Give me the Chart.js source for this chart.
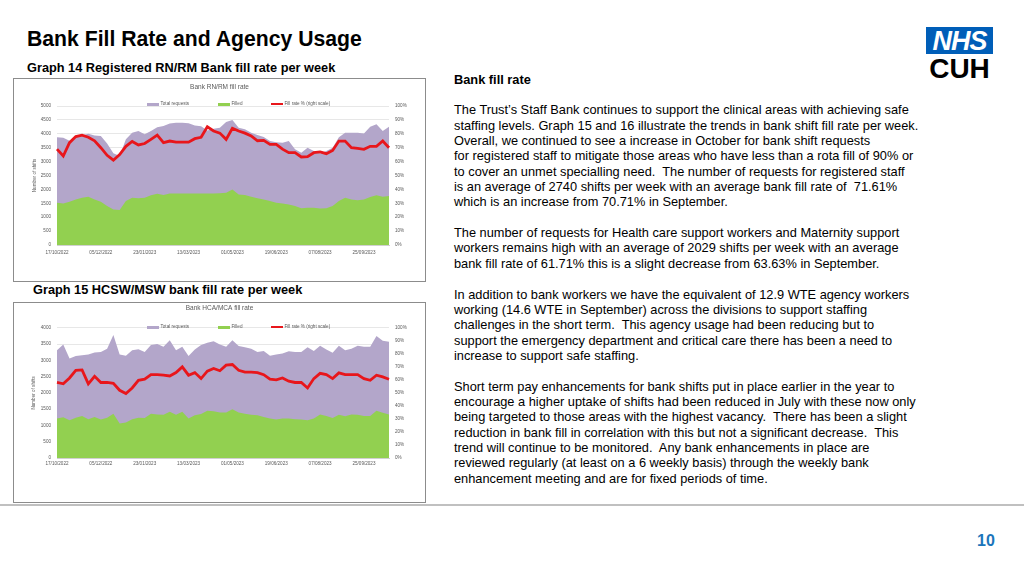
<!DOCTYPE html>
<html>
<head>
<meta charset="utf-8">
<script src="https://cdn.jsdelivr.net/npm/chart.js@4"></script>
<style>
  body { margin: 0; background: #fff; font-family: 'Liberation Sans', Arial, sans-serif; }
  .slide { position: relative; width: 1024px; height: 576px; overflow: hidden; background: #fff; }
  .title { position: absolute; left: 27px; top: 27px; font-size: 21.2px; font-weight: bold; color: #000; white-space: nowrap; }
  .sub { position: absolute; font-size: 12.75px; font-weight: bold; color: #000; white-space: nowrap; }
  .box { position: absolute; border: 1px solid #8c8c8c; box-sizing: border-box; }
  .box .wrap { position: absolute; left: 0; top: 0; right: 0; bottom: 0; }
  .legend { position: absolute; left: 0; top: 0; width: 100%; height: 8px; font-size: 4.6px; color: #595959; }
  .legend span { position: absolute; white-space: nowrap; }
  .legend i { position: absolute; width: 12px; }
  .text { position: absolute; left: 454px; top: 71.7px; font-size: 12.8px; line-height: 15.35px; color: #000; white-space: nowrap; }
  .rule { position: absolute; left: 0; top: 504px; width: 1024px; height: 2px; background: #c0c0c0; }
  .page { position: absolute; left: 977px; top: 532px; font-size: 16px; font-weight: bold; color: #1b75bb; }
  .nhs { position: absolute; left: 926px; top: 27px; width: 67px; height: 27px; background: #005eb8; color: #fff;
         font: italic bold 27px 'Liberation Sans', Arial, sans-serif; line-height: 28px; text-align: center; letter-spacing: -1px; }
  .cuh { position: absolute; left: 926px; top: 53px; width: 67px; text-align: center; font: bold 28px 'Liberation Sans', Arial, sans-serif; color: #000; }
</style>
</head>
<body>
<div class="slide">
  <div class="title">Bank Fill Rate and Agency Usage</div>
  <div class="sub" style="left:27px;top:60px;">Graph 14 Registered RN/RM Bank fill rate per week</div>
  <div class="sub" style="left:33px;top:282px;">Graph 15 HCSW/MSW bank fill rate per week</div>

  <div class="box" style="left:13px;top:78px;width:413px;height:204px;">
    <div class="wrap"><canvas id="rnChart"></canvas></div>
    <div class="legend" id="rnLegend" style="top:21px;"></div>
  </div>

  <div class="box" style="left:13px;top:302px;width:413px;height:201px;">
    <div class="wrap"><canvas id="hcaChart"></canvas></div>
    <div class="legend" id="hcaLegend" style="top:20px;"></div>
  </div>

  <div class="text"><b>Bank fill rate</b><br>
<br>
The Trust’s Staff Bank continues to support the clinical areas with achieving safe<br>
staffing levels. Graph 15 and 16 illustrate the trends in bank shift fill rate per week.<br>
Overall, we continued to see a increase in October for bank shift requests<br>
for registered staff to mitigate those areas who have less than a rota fill of 90% or<br>
to cover an unmet specialling need.&nbsp; The number of requests for registered staff<br>
is an average of 2740 shifts per week with an average bank fill rate of &nbsp;71.61%<br>
which is an increase from 70.71% in September.<br>
<br>
The number of requests for Health care support workers and Maternity support<br>
workers remains high with an average of 2029 shifts per week with an average<br>
bank fill rate of 61.71% this is a slight decrease from 63.63% in September.<br>
<br>
In addition to bank workers we have the equivalent of 12.9 WTE agency workers<br>
working (14.6 WTE in September) across the divisions to support staffing<br>
challenges in the short term.&nbsp; This agency usage had been reducing but to<br>
support the emergency department and critical care there has been a need to<br>
increase to support safe staffing.<br>
<br>
Short term pay enhancements for bank shifts put in place earlier in the year to<br>
encourage a higher uptake of shifts had been reduced in July with these now only<br>
being targeted to those areas with the highest vacancy.&nbsp; There has been a slight<br>
reduction in bank fill in correlation with this but not a significant decrease.&nbsp; This<br>
trend will continue to be monitored.&nbsp; Any bank enhancements in place are<br>
reviewed regularly (at least on a 6 weekly basis) through the weekly bank<br>
enhancement meeting and are for fixed periods of time.</div>

  <div class="nhs">NHS</div>
  <div class="cuh">CUH</div>
  <div class="rule"></div>
  <div class="page">10</div>
</div>

<script>
/* ===== Data ===== */
const weeks = [
  '17/10/2022', '24/10/2022', '31/10/2022', '07/11/2022', '14/11/2022', '21/11/2022', '28/11/2022',
  '05/12/2022', '12/12/2022', '19/12/2022', '26/12/2022', '02/01/2023', '09/01/2023', '16/01/2023',
  '23/01/2023', '30/01/2023', '06/02/2023', '13/02/2023', '20/02/2023', '27/02/2023', '06/03/2023',
  '13/03/2023', '20/03/2023', '27/03/2023', '03/04/2023', '10/04/2023', '17/04/2023', '24/04/2023',
  '01/05/2023', '08/05/2023', '15/05/2023', '22/05/2023', '29/05/2023', '05/06/2023', '12/06/2023',
  '19/06/2023', '26/06/2023', '03/07/2023', '10/07/2023', '17/07/2023', '24/07/2023', '31/07/2023',
  '07/08/2023', '14/08/2023', '21/08/2023', '28/08/2023', '04/09/2023', '11/09/2023', '18/09/2023',
  '25/09/2023', '02/10/2023', '09/10/2023', '16/10/2023', '23/10/2023'
];

const seriesLabels = ['Total requests', 'Filled', 'Fill rate % (right scale)'];
const seriesColors = ['#b3a6ca', '#92d050', '#e8161b'];

// Graph 14 - RN/RM
const rnTotal = [
  3880, 3860, 3750, 3880, 3950, 4000, 3940, 3920, 3650, 3300, 3200, 3800, 4040, 4100,
  3980, 4100, 4240, 4280, 4370, 4400, 4400, 4380, 4300, 4270, 4120, 4180, 4220, 4420,
  4500, 4220, 4160, 4040, 3960, 3885, 3740, 3700, 3680, 3740, 3440, 3320, 3500, 3380,
  3290, 3380, 3500, 3880, 4040, 4040, 4040, 4010, 4250, 4340, 4100, 4250
];
const rnFilled = [
  1520, 1490, 1560, 1640, 1700, 1740, 1640, 1560, 1400, 1280, 1260, 1580, 1700, 1680,
  1700, 1790, 1840, 1800, 1850, 1850, 1850, 1850, 1850, 1850, 1850, 1850, 1860, 1880,
  2000, 1820, 1800, 1740, 1680, 1640, 1580, 1520, 1490, 1460, 1400, 1320, 1340, 1340,
  1310, 1320, 1400, 1580, 1700, 1640, 1610, 1640, 1730, 1790, 1740, 1760
];
const rnRate = [
  69, 64, 73.6, 78, 79, 77.5, 75, 70, 64.5, 61, 65, 71, 74.5, 72,
  73, 76, 79, 73.6, 74.8, 74, 74, 74, 76.5, 77.5, 85, 82, 80.5, 76,
  84, 82, 80.5, 78.5, 75, 75.3, 72.4, 72.4, 69, 66.4, 66.4, 63.3, 63.5, 66.4,
  67, 65.7, 68, 74.8, 74.8, 70, 69.5, 68.8, 71, 71, 74.8, 70
];

// Graph 15 - HCA/MCA
const hcaTotal = [
  3310, 3490, 3060, 3130, 3160, 3180, 3240, 3260, 3360, 3780, 3180, 3140, 3310, 3340,
  3260, 3470, 3500, 3420, 3620, 3310, 3420, 3130, 3330, 3470, 3540, 3590, 3490, 3420,
  3620, 3440, 3400, 3360, 3260, 3290, 3140, 3180, 3210, 3280, 3260, 3260, 3400, 3290,
  3450, 3330, 3230, 3450, 3310, 3360, 3450, 3420, 3420, 3750, 3600, 3570
];
const hcaFilled = [
  1210, 1250, 1160, 1240, 1290, 1190, 1260, 1180, 1240, 1360, 1060, 1090, 1190, 1240,
  1230, 1360, 1340, 1330, 1420, 1330, 1420, 1210, 1310, 1350, 1450, 1440, 1400, 1400,
  1500, 1400, 1360, 1330, 1310, 1260, 1210, 1180, 1210, 1210, 1190, 1180, 1160, 1210,
  1340, 1290, 1230, 1330, 1280, 1340, 1330, 1290, 1290, 1450, 1390, 1340
];
const hcaRate = [
  58, 57, 61.5, 67.4, 67.7, 57, 62.8, 58, 58, 57.4, 52, 49.5, 53.8, 59.7,
  60.5, 64, 64, 63.6, 63, 65.6, 70, 63.6, 65.6, 61, 66.7, 68.7, 67, 71.3,
  71.8, 67.4, 66, 66, 65.6, 64, 60.5, 60, 61.5, 59, 58, 58, 53.8, 61,
  65, 64, 61, 65.4, 64, 64, 64, 61, 59.7, 63.6, 62.3, 60.5
];

/* ===== Chart defaults ===== */
Chart.defaults.font.family = "'Liberation Sans', Arial, sans-serif";
Chart.defaults.color = '#595959';
Chart.defaults.animation = false;

const tickFont = { size: 4.6 };

function buildLegend(el) {
  const lefts = [133, 204, 257];
  el.innerHTML = seriesLabels.map((label, i) => {
    const h = i === 2 ? 2.8 : 3;
    return `<i style="left:${lefts[i]}px;top:${4 - h / 2}px;height:${h}px;background:${seriesColors[i]}"></i>` +
      `<span style="left:${lefts[i] + 13.5}px;top:1px;">${label}</span>`;
  }).join('');
}

function initFillChart(id, title, total, filled, rate, opts) {
  const ctx = document.getElementById(id);
  new Chart(ctx, {
    type: 'line',
    data: {
      labels: weeks,
      datasets: [
        {
          label: seriesLabels[0], data: total, order: 2,
          backgroundColor: seriesColors[0], borderWidth: 0,
          fill: 'origin', pointRadius: 0, tension: 0, yAxisID: 'y'
        },
        {
          label: seriesLabels[1], data: filled, order: 1,
          backgroundColor: seriesColors[1], borderWidth: 0,
          fill: 'origin', pointRadius: 0, tension: 0, yAxisID: 'y'
        },
        {
          label: seriesLabels[2], data: rate, order: 0,
          borderColor: seriesColors[2], backgroundColor: seriesColors[2], borderWidth: 2.8,
          fill: false, pointRadius: 0, tension: 0, yAxisID: 'y1'
        }
      ]
    },
    options: {
      responsive: true,
      maintainAspectRatio: false,
      layout: { padding: 0 },
      plugins: {
        legend: { display: false },
        tooltip: { enabled: false },
        title: {
          display: true,
          text: title,
          color: '#595959',
          font: { size: 6.5, weight: 'normal' },
          padding: opts.titlePad
        }
      },
      scales: {
        x: {
          offset: false,
          grid: { display: false, drawTicks: false },
          border: { display: true, color: '#d0d0d0' },
          ticks: {
            autoSkip: false, maxRotation: 0, font: tickFont, padding: opts.xPad,
            callback: (v, i) => (i % 7 === 0 ? weeks[i] : '')
          },
          afterFit: s => { s.height = opts.xHeight; }
        },
        y: {
          min: 0, max: opts.yMax,
          ticks: { stepSize: 500, font: tickFont, padding: 6, callback: v => String(v) },
          grid: { color: '#dcdcdc', lineWidth: 0.7, drawTicks: false },
          border: { display: false },
          title: {
            display: true, text: 'Number of shifts', font: { size: 4.6 },
            padding: { top: opts.yTitleTop, bottom: 0 }
          },
          afterFit: s => { s.width = 43; }
        },
        y1: {
          position: 'right',
          min: 0, max: 100,
          ticks: { stepSize: 10, font: tickFont, padding: 6, callback: v => v + '%' },
          grid: { display: false, drawTicks: false },
          border: { display: false },
          afterFit: s => { s.width = 36; }
        }
      }
    }
  });
}

/* ===== Init ===== */
buildLegend(document.getElementById('rnLegend'));
buildLegend(document.getElementById('hcaLegend'));

initFillChart('rnChart', 'Bank RN/RM fill rate', rnTotal, rnFilled, rnRate,
  { yMax: 5000, xHeight: 36, xPad: 5, yTitleTop: 17.5, titlePad: { top: 4, bottom: 15.2 } });
initFillChart('hcaChart', 'Bank HCA/MCA fill rate', hcaTotal, hcaFilled, hcaRate,
  { yMax: 4000, xHeight: 44, xPad: 3, yTitleTop: 16.5, titlePad: { top: 1.5, bottom: 15.5 } });
</script>
</body>
</html>
